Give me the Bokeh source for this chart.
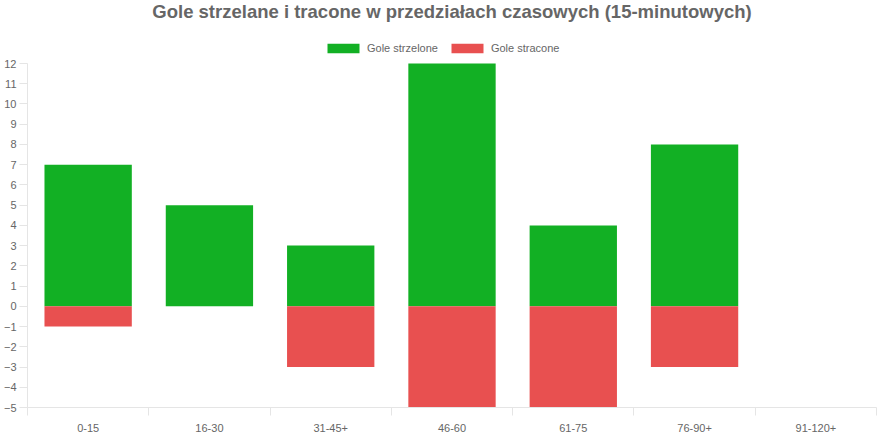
import numpy as np
from bokeh.plotting import figure
from bokeh.models import (ColumnDataSource, Range1d, FixedTicker, Legend, LegendItem)
from bokeh.embed import file_html
from bokeh.resources import INLINE

categories = ["0-15", "16-30", "31-45+", "46-60", "61-75", "76-90+", "91-120+"]
scored = [7, 5, 3, 12, 4, 8, 0]
conceded = [-1, 0, -3, -5, -5, -3, 0]
y_ticks = list(range(-5, 13))
y_min, y_max = -5, 12

title_text = "Gole strzelane i tracone w przedziałach czasowych (15-minutowych)"
label_scored = "Gole strzelone"
label_conceded = "Gole stracone"

GREEN = "#12b024"
RED = "#e85050"
TEXT = "#666666"
AXIS = "#e5e5e5"
FONT = "Liberation Sans"

# layout (pixels)
AXIS_H = 344            # height of the -5..12 axis
LEGEND_ROOM = 40        # room above the axis top for the legend
FRAME_W = 849
FRAME_H = AXIS_H + LEGEND_ROOM
px_per_unit = AXIS_H / (y_max - y_min)

n = len(categories)
centers = np.arange(n) + 0.5
src = ColumnDataSource(dict(x=centers, scored=scored, conceded=conceded, cat=categories))

p = figure(frame_width=FRAME_W, frame_height=FRAME_H, output_backend="svg", toolbar_location=None,
           x_range=Range1d(0, n),
           y_range=Range1d(y_min, y_max + LEGEND_ROOM / px_per_unit),
           min_border_left=24, min_border_right=3, min_border_top=0, min_border_bottom=0,
           title=title_text)
p.title.align = "center"
p.title.vertical_align = "top"
p.title.text_font = FONT
p.title.text_font_size = "18.5px"
p.title.text_font_style = "bold"
p.title.text_color = TEXT
p.title.text_line_height = 0.8
p.title.standoff = 0

bar_w = 0.72
r_g = p.vbar(x="x", top="scored", bottom=0, width=bar_w, source=src,
             fill_color=GREEN, line_color=None)
r_r = p.vbar(x="x", top="conceded", bottom=0, width=bar_w, source=src,
             fill_color=RED, line_color=None)

p.xgrid.visible = False
p.ygrid.visible = False
p.outline_line_color = None

xa = p.xaxis[0]
xa.ticker = FixedTicker(ticks=list(centers), minor_ticks=list(range(n + 1)))
xa.major_label_overrides = {float(c): lab for c, lab in zip(centers, categories)}
xa.major_tick_line_color = None
xa.minor_tick_line_color = AXIS
xa.minor_tick_out = 8
xa.minor_tick_in = 0
xa.axis_line_color = AXIS
xa.major_label_text_font = FONT
xa.major_label_text_font_size = "11px"
xa.major_label_text_color = TEXT
xa.major_label_standoff = 8

ya = p.yaxis[0]
ya.ticker = FixedTicker(ticks=y_ticks)
ya.bounds = (y_min, y_max)
ya.minor_tick_line_color = None
ya.major_tick_line_color = AXIS
ya.major_tick_out = 8
ya.major_tick_in = 0
ya.axis_line_color = AXIS
ya.major_label_text_font = FONT
ya.major_label_text_font_size = "11px"
ya.major_label_text_color = TEXT
ya.major_label_standoff = 3

legend = Legend(items=[LegendItem(label=label_scored, renderers=[r_g]),
                       LegendItem(label=label_conceded, renderers=[r_r])],
                orientation="horizontal", location=(296, AXIS_H + 9),
                glyph_width=40, glyph_height=12, label_standoff=4, spacing=9,
                label_text_font=FONT, label_text_font_size="11px", label_text_color=TEXT,
                label_height=12, padding=0, margin=0,
                border_line_color=None, background_fill_alpha=0)
p.add_layout(legend, "center")

open("out.html", "w").write(file_html(p, INLINE))
